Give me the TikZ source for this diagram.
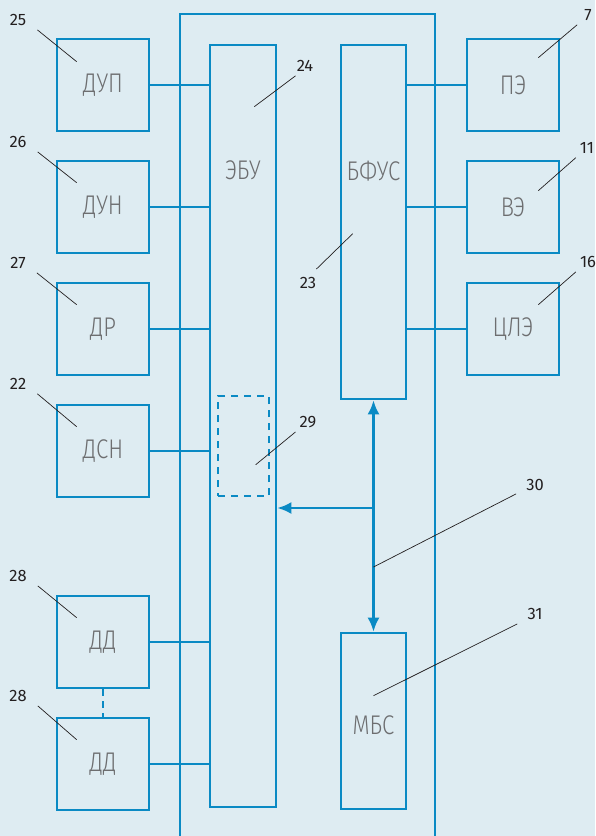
\documentclass[tikz,border=0pt]{standalone}
\usepackage{fontspec}
\setmainfont{Fira Sans}
\newfontfamily\thinfont{Fira Sans Light}[FakeStretch=0.82]
\usetikzlibrary{arrows.meta,positioning}
\definecolor{bgblue}{HTML}{DEECF2}
\definecolor{lineblue}{HTML}{0A8AC4}
\definecolor{txtgray}{HTML}{6D6E70}
\definecolor{numblack}{HTML}{231F20}

\begin{document}
\begin{tikzpicture}[x=1pt, y=-1pt,
  sensor/.style={draw=lineblue, line width=2.6pt, minimum width=92pt, minimum height=92pt,
                 inner sep=0pt, text=txtgray, font=\thinfont\fontsize{27}{29}\selectfont},
  unit/.style={draw=lineblue, line width=2.6pt, minimum width=66pt, inner sep=0pt},
  lbl/.style={text=txtgray, font=\thinfont\fontsize{27}{29}\selectfont, inner sep=0pt},
  wire/.style={draw=lineblue, line width=2.6pt},
  arr/.style={wire, -{Latex[length=14pt, width=12pt]}},
  num/.style={text=numblack, font=\fontsize{16.5}{18}\selectfont, inner sep=0pt},
  lead/.style={draw=numblack, line width=0.7pt}
]
\fill[bgblue] (0,0) rectangle (595,836);
\useasboundingbox (0,0) rectangle (595,836);

% outer frame, open at the bottom
\draw[wire] (180,836) |- (435,14) -- (435,836);

% central units
\node[unit, minimum height=762pt, label={[lbl, anchor=center, yshift=-127pt]north:ЭБУ}] (ebu) at (243,426) {};
\node[unit, minimum width=65pt, minimum height=354pt, label={[lbl, anchor=center, yshift=-127pt]north:БФУС}] (bfus) at (373.5,222) {};
\node[unit, minimum width=65pt, minimum height=176pt, label={[lbl, anchor=center, yshift=-94pt]north:МБС}] (mbs) at (373.5,721) {};
\node[wire, dash pattern=on 7pt off 6pt, minimum width=51pt, minimum height=100pt] (sub) at (243.5,446) {};

% sensors on the left
\node[sensor] (dup) at (103,85) {ДУП};
\node[sensor] (dun) at (103,207) {ДУН};
\node[sensor] (dr) at (103,329) {ДР};
\node[sensor] (dsn) at (103,451) {ДСН};
\node[sensor] (dda) at (103,642) {ДД};
\node[sensor] (ddb) at (103,764) {ДД};

% actuators on the right
\node[sensor] (pe) at (513,85) {ПЭ};
\node[sensor] (ve) at (513,207) {ВЭ};
\node[sensor] (tsle) at (513,329) {ЦЛЭ};

\foreach \s in {dup,dun,dr,dsn,dda,ddb}
  \draw[wire] (\s.east) -- (ebu.west |- \s.east);
\foreach \s in {pe,ve,tsle}
  \draw[wire] (bfus.east |- \s.west) -- (\s.west);
\draw[wire, dash pattern=on 7pt off 5pt] (dda.south) -- (ddb.north);

% data bus
\coordinate (bus) at (373.5,508);
\draw[wire, {Latex[length=14pt, width=12pt]}-{Latex[length=14pt, width=12pt]}] (bfus.south) -- (mbs.north);
\draw[arr] (bus) -- (ebu.east |- bus);

% reference numbers
\node[num] (n25) at (18,20) {25};
\node[num] (n26) at (18,142) {26};
\node[num] (n27) at (18,263) {27};
\node[num] (n22) at (18,384) {22};
\node[num] (n28a) at (18,576) {28};
\node[num] (n28b) at (18,696) {28};
\node[num] (n7) at (588,15) {7};
\node[num] (n11) at (587,148) {11};
\node[num] (n16) at (588,262) {16};
\node[num] (n24) at (305,66) {24};
\node[num] (n23) at (308,283) {23};
\node[num] (n29) at (308,422) {29};
\node[num] (n30) at (535,485) {30};
\node[num] (n31) at (535,614) {31};

\draw[lead] ([shift={(11,4)}]n25.south east) -- ([shift={(21,24)}]dup.north west);
\draw[lead] ([shift={(11,4)}]n26.south east) -- ([shift={(21,23)}]dun.north west);
\draw[lead] ([shift={(11,4)}]n27.south east) -- ([shift={(21,23)}]dr.north west);
\draw[lead] ([shift={(11,4)}]n22.south east) -- ([shift={(21,23)}]dsn.north west);
\draw[lead] ([shift={(11,4)}]n28a.south east) -- ([shift={(21,23)}]dda.north west);
\draw[lead] ([shift={(11,4)}]n28b.south east) -- ([shift={(21,23)}]ddb.north west);
\draw[lead] ([shift={(-7,4)}]n7.south west) -- ([shift={(-22,20)}]pe.north east);
\draw[lead] ([shift={(-4,4)}]n11.south west) -- ([shift={(-22,31)}]ve.north east);
\draw[lead] ([shift={(-4,4)}]n16.south west) -- ([shift={(-22,23)}]tsle.north east);
\draw[lead] ([shift={(-1,4)}]n24.south west) -- ([shift={(-23,63)}]ebu.north east);
\draw[lead] ([shift={(0,-8)}]n23.north east) -- ([shift={(13,190)}]bfus.north west);
\draw[lead] ([shift={(-4,4)}]n29.south west) -- ([shift={(39,70)}]sub.north west);
\draw[lead] ([shift={(-10,3)}]n30.south west) -- ([shift={(0,59)}]bus);
\draw[lead] ([shift={(-10,4)}]n31.south west) -- ([shift={(0,64)}]mbs.north);
\end{tikzpicture}
\end{document}
